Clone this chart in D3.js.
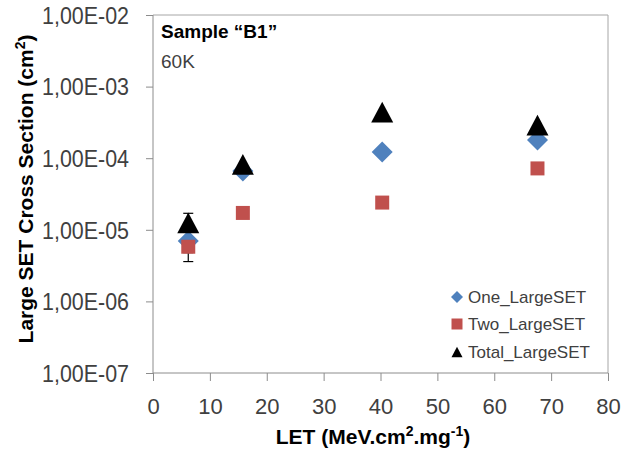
<!DOCTYPE html>
<html>
<head>
<meta charset="utf-8">
<script src="https://cdn.jsdelivr.net/npm/d3@7"></script>
<style>
  html, body { margin: 0; padding: 0; background: #fff; }
  svg { display: block; }
</style>
</head>
<body>
<svg id="chart" width="632" height="450"></svg>
<script>
// ---------- data ----------
const let_values   = [6.2, 15.8, 40.3, 67.6];
const one_large    = [7.0e-6, 6.6e-5, 1.22e-4, 1.8e-4];
const two_large    = [5.8e-6, 1.72e-5, 2.4e-5, 7.2e-5];
const total_large  = [1.25e-5, 8.2e-5, 4.4e-4, 2.9e-4];
// error bars (low/high), null where hidden under marker
const one_err_low   = [4.8e-6, null, null, null];
const two_err_low   = [3.6e-6, null, null, null];
const total_err_high= [1.7e-5, null, null, null];
const series_names = ["One_LargeSET", "Two_LargeSET", "Total_LargeSET"];
const series_colors = ["#4F81BD", "#C0504D", "#000000"];
const x_ticks = [0, 10, 20, 30, 40, 50, 60, 70, 80];
const y_ticks = [1e-7, 1e-6, 1e-5, 1e-4, 1e-3, 1e-2];
const y_tick_labels = ["1,00E-07", "1,00E-06", "1,00E-05", "1,00E-04", "1,00E-03", "1,00E-02"];

// ---------- layout ----------
const svg = d3.select("#chart");
const L = 153, R = 608, T = 15, B = 373;
const x = d3.scaleLinear().domain([0, 80]).range([L, R]);
const y = d3.scaleLog().domain([1e-7, 1e-2]).range([B, T]);
const axisColor = "#8c8c8c";
const font = "'Liberation Sans', Arial, sans-serif";

// plot border (top & right)
svg.append("path")
  .attr("d", `M${L},${T}H${R}V${B}`)
  .attr("fill", "none").attr("stroke", "#a6a6a6").attr("stroke-width", 1);

// axes
const yAxis = d3.axisLeft(y).tickValues(y_ticks).tickSize(7)
  .tickFormat((d, i) => y_tick_labels[i]);
const gy = svg.append("g").attr("transform", `translate(${L},0)`).call(yAxis);
gy.select(".domain").attr("stroke", axisColor).attr("d", `M0,${T}V${B}`);
gy.selectAll(".tick line").attr("stroke", axisColor);
gy.selectAll(".tick text")
  .attr("x", -24).attr("dy", "0.36em")
  .attr("fill", "#404040").style("font-family", font).style("font-size", "23px")
  .attr("textLength", 87).attr("lengthAdjust", "spacingAndGlyphs");

const xAxis = d3.axisBottom(x).tickValues(x_ticks).tickSize(8);
const gx = svg.append("g").attr("transform", `translate(0,${B})`).call(xAxis);
gx.select(".domain").attr("stroke", axisColor).attr("d", `M${L},0H${R}`);
gx.selectAll(".tick line").attr("stroke", axisColor);
gx.selectAll(".tick text")
  .attr("y", 33).attr("dy", "0.36em")
  .attr("fill", "#404040").style("font-family", font).style("font-size", "22px");

// axis titles
svg.append("text")
  .attr("x", 373).attr("y", 444)
  .attr("text-anchor", "middle")
  .style("font-family", font).style("font-size", "21px").style("font-weight", "bold")
  .attr("fill", "#000")
  .html('LET (MeV.cm<tspan dy="-8" font-size="14">2</tspan><tspan dy="8">.mg</tspan><tspan dy="-8" font-size="14">-1</tspan><tspan dy="8">)</tspan>');

svg.append("text")
  .attr("transform", `translate(33,189) rotate(-90)`)
  .attr("text-anchor", "middle")
  .style("font-family", font).style("font-size", "21px").style("font-weight", "bold")
  .attr("fill", "#000")
  .html('Large SET Cross Section (cm<tspan dy="-8" font-size="14">2</tspan><tspan dy="8">)</tspan>');

// annotations
svg.append("text").attr("x", 161).attr("y", 38)
  .style("font-family", font).style("font-size", "19px").style("font-weight", "bold")
  .attr("fill", "#000").text("Sample \u201CB1\u201D");
svg.append("text").attr("x", 161).attr("y", 68)
  .style("font-family", font).style("font-size", "19px")
  .attr("fill", "#404040").text("60K");

// marker shapes
function diamond(cx, cy, r) { return `M${cx},${cy - r}L${cx + r},${cy}L${cx},${cy + r}L${cx - r},${cy}Z`; }
function square(cx, cy, s) { return `M${cx - s / 2},${cy - s / 2}h${s}v${s}h${-s}Z`; }
function triangle(cx, cy, w) { const h = w * 0.95; return `M${cx},${cy - h / 2}L${cx + w / 2},${cy + h / 2}L${cx - w / 2},${cy + h / 2}Z`; }

// error bars
function errBar(xs, ys, es) {
  const g = svg.append("g").attr("stroke", "#000").attr("stroke-width", 1.2);
  xs.forEach((xv, i) => {
    if (es[i] == null) return;
    const px = x(xv), p0 = y(ys[i]), p1 = y(es[i]);
    g.append("line").attr("x1", px).attr("x2", px).attr("y1", p0).attr("y2", p1);
    g.append("line").attr("x1", px - 5).attr("x2", px + 5).attr("y1", p1).attr("y2", p1);
  });
}
errBar(let_values, one_large, one_err_low);
errBar(let_values, two_large, two_err_low);
errBar(let_values, total_large, total_err_high);

// series
const gpts = svg.append("g");
gpts.selectAll(".one").data(let_values).join("path")
  .attr("d", (d, i) => diamond(x(d), y(one_large[i]), 10.5)).attr("fill", series_colors[0]);
gpts.selectAll(".two").data(let_values).join("path")
  .attr("d", (d, i) => square(x(d), y(two_large[i]), 14)).attr("fill", series_colors[1]);
gpts.selectAll(".tot").data(let_values).join("path")
  .attr("d", (d, i) => triangle(x(d), y(total_large[i]), 22)).attr("fill", series_colors[2]);

// legend
const legY = [297, 324, 352];
const legendShapes = [
  (cx, cy) => diamond(cx, cy, 6),
  (cx, cy) => square(cx, cy, 11),
  (cx, cy) => triangle(cx, cy, 11)
];
series_names.forEach((name, i) => {
  svg.append("path").attr("d", legendShapes[i](457, legY[i])).attr("fill", series_colors[i]);
  svg.append("text").attr("x", 468).attr("y", legY[i] + 6)
    .style("font-family", font).style("font-size", "17px")
    .attr("fill", "#404040").text(name);
});
</script>
</body>
</html>
